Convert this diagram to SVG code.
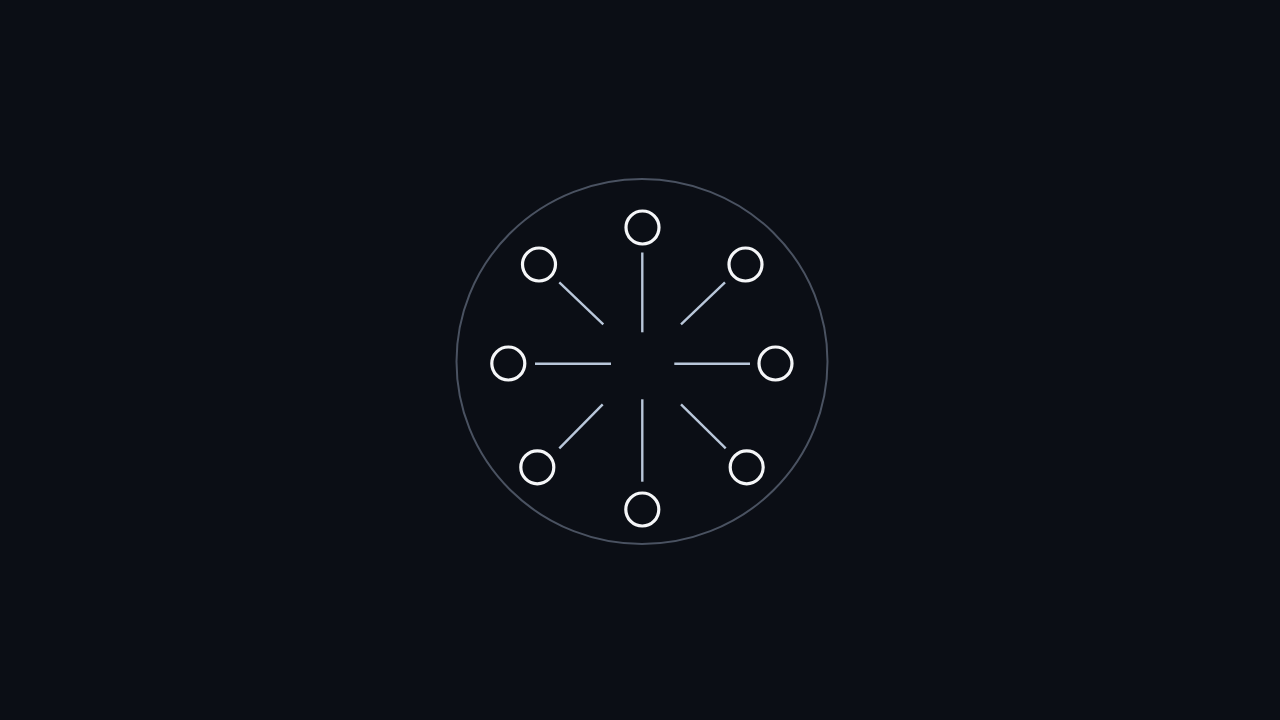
<svg xmlns="http://www.w3.org/2000/svg" width="1280" height="720" viewBox="0 0 1280 720">
<style>
.bg{fill:#0b0e15}
.ring{fill:none;stroke:#4a5261;stroke-width:2}
.node{fill:#0b0e15;stroke:#f5f6f8;stroke-width:3.2}
.edge{stroke:#b9c7da;stroke-width:2.4;stroke-linecap:butt}
</style>
<rect class="bg" x="0" y="0" width="1280" height="720"/>
<ellipse id="boundary" class="ring" cx="642" cy="361.5" rx="185.5" ry="182.5"/>
<g id="connectors">
<line class="edge" x1="642.3" y1="252.5" x2="642.3" y2="332.3"/>
<line class="edge" x1="642.3" y1="399.3" x2="642.3" y2="481.7"/>
<line class="edge" x1="535" y1="363.7" x2="611" y2="363.7"/>
<line class="edge" x1="674.3" y1="363.7" x2="750" y2="363.7"/>
<line class="edge" x1="559.3" y1="282.3" x2="603.3" y2="324.3"/>
<line class="edge" x1="725" y1="282.3" x2="681" y2="324.3"/>
<line class="edge" x1="602.7" y1="404.3" x2="559.3" y2="448.3"/>
<line class="edge" x1="681" y1="404.3" x2="725.7" y2="448.3"/>
</g>
<g id="node-top"><circle class="node" cx="642.5" cy="227.5" r="16.5"/></g>
<g id="node-top-left"><circle class="node" cx="539" cy="264.5" r="16.5"/></g>
<g id="node-top-right"><circle class="node" cx="745.5" cy="264.5" r="16.5"/></g>
<g id="node-left"><circle class="node" cx="508.3" cy="363.5" r="16.5"/></g>
<g id="node-right"><circle class="node" cx="775.5" cy="363.5" r="16.5"/></g>
<g id="node-bottom-left"><circle class="node" cx="537.3" cy="467.3" r="16.5"/></g>
<g id="node-bottom-right"><circle class="node" cx="746.7" cy="467.3" r="16.5"/></g>
<g id="node-bottom"><circle class="node" cx="642.3" cy="509.5" r="16.5"/></g>
</svg>
